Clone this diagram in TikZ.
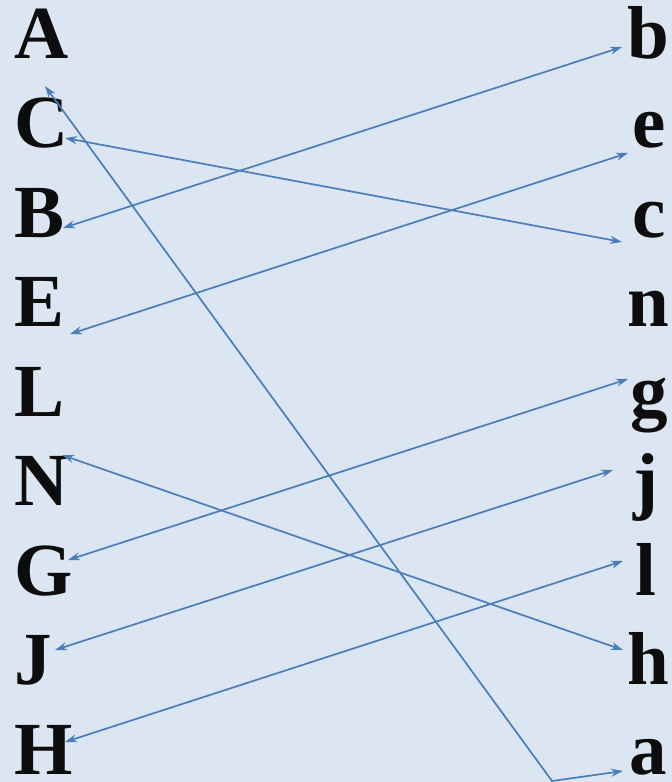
\documentclass[tikz,border=0pt]{standalone}
\usepackage{fontspec}
\setmainfont{Liberation Serif}
\usetikzlibrary{arrows.meta}
\definecolor{bgblue}{HTML}{DCE6F2}
\definecolor{lnblue}{HTML}{4A7EBB}
\begin{document}
\begin{tikzpicture}[x=1pt,y=-1pt,
  lbl/.style={inner sep=0pt,font=\fontsize{75}{75}\bfseries\selectfont,text=black!95},
  lft/.style={lbl,anchor=base west},
  rgt/.style={lbl,anchor=base},
  link/.style={draw=lnblue,line width=1.7pt,{Stealth[length=12pt,width=8pt]}-{Stealth[length=12pt,width=8pt]}}]
\fill[bgblue] (0,0) rectangle (672,782);
\useasboundingbox (0,0) rectangle (672,782);
% left column
\node[lft] (A) at (14,58) {A};
\node[lft] (C) at (14,147.5) {C};
\node[lft] (B) at (14,237) {B};
\node[lft] (E) at (14,326.5) {E};
\node[lft] (L) at (14,416) {L};
\node[lft] (N) at (14,505.5) {N};
\node[lft] (G) at (14,595) {G};
\node[lft] (J) at (14,684.5) {J};
\node[lft] (H) at (14,774) {H};
% right column
\node[rgt] (b) at (648,58) {b};
\node[rgt] (e) at (649,147.5) {e};
\node[rgt] (c) at (649,237) {c};
\node[rgt] (n) at (648,326.5) {n};
\node[rgt] (g) at (649,416) {g};
\node[rgt] (j) at (646,505.5) {j};
\node[rgt] (l) at (646,595) {l};
\node[rgt] (h) at (648,684.5) {h};
\node[rgt] (a) at (648,774) {a};
% connector ends
\coordinate (pA) at (45,86);
\coordinate (pC) at (65,138);
\coordinate (pB) at (63,228);
\coordinate (pE) at (70,334);
\coordinate (pN) at (62,455);
\coordinate (pG) at (68,560);
\coordinate (pJ) at (55,650);
\coordinate (pH) at (65,742);
\coordinate (qb) at (622,47);
\coordinate (qe) at (628,153);
\coordinate (qc) at (622,242);
\coordinate (qg) at (628,379);
\coordinate (qj) at (613,470);
\coordinate (ql) at (623,561);
\coordinate (qh) at (623,650);
\coordinate (qa) at (623,771);
\coordinate (bend) at (552,781);
% connectors
\draw[link] (pB) -- (qb);
\draw[link] (pC) -- (qc);
\draw[link] (pE) -- (qe);
\draw[link] (pN) -- (qh);
\draw[link] (pG) -- (qg);
\draw[link] (pJ) -- (qj);
\draw[link] (pH) -- (ql);
\draw[link] (pA) -- (bend) -- (qa);
\end{tikzpicture}
\end{document}
